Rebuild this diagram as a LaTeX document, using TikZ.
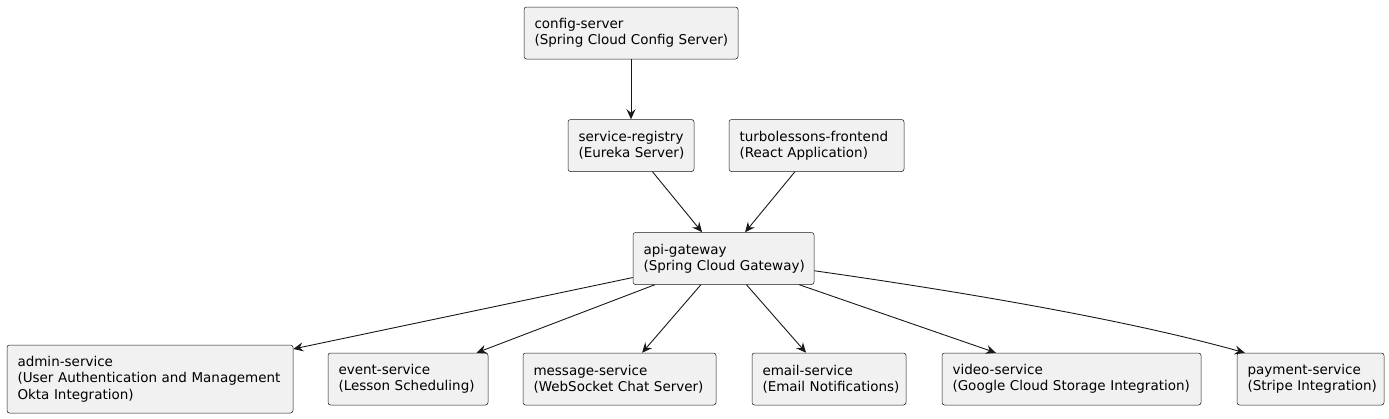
\documentclass[tikz,border=0pt]{standalone}
\usepackage{fontspec}
\setmainfont{DejaVu Sans}
\usetikzlibrary{arrows.meta,calc}
\definecolor{boxfill}{HTML}{F1F1F1}
\definecolor{boxline}{HTML}{181818}
\tikzset{
  svc/.style={draw=boxline, line width=0.5pt, fill=boxfill, rounded corners=2.5pt,
    align=left, inner xsep=10.5pt, inner ysep=0pt, minimum height=52pt,
    font=\fontsize{13.5}{16.4}\selectfont},
  conn/.style={draw=boxline, line width=0.9pt, -{Stealth[length=10pt,width=9pt,inset=3.5pt]}}
}
\newcommand{\svcbox}[6]{% name, cx, cy, width, line1, line2
  \node[svc, text width=#4pt-21pt, minimum width=#4pt] (#1) at (#2,#3) {\mbox{#5}\\\mbox{#6}};}
\begin{document}
\begin{tikzpicture}[x=1pt,y=-1pt]
\useasboundingbox (0,0) rectangle (1389,418);
\svcbox{config}{631}{33}{214}{config-server}{(Spring Cloud Config Server)}
\svcbox{registry}{631}{145.5}{126}{service-registry}{(Eureka Server)}
\svcbox{frontend}{816.5}{145.5}{175}{turbolessons-frontend}{(React Application)}
\svcbox{gw}{723.5}{258.5}{181}{api-gateway}{(Spring Cloud Gateway)}
\node[svc, text width=265pt, minimum width=286pt, minimum height=68pt] (admin) at (150,379) {\mbox{admin-service}\\\mbox{(User Authentication and Management}\\\mbox{Okta Integration)}};
\svcbox{event}{408}{379}{160}{event-service}{(Lesson Scheduling)}
\svcbox{message}{619.5}{379}{193}{message-service}{(WebSocket Chat Server)}
\svcbox{email}{829}{379}{154}{email-service}{(Email Notifications)}
\svcbox{video}{1071.5}{379}{259}{video-service}{(Google Cloud Storage Integration)}
\svcbox{pay}{1310.5}{379}{147}{payment-service}{(Stripe Integration)}

\draw[conn] (config) -- (registry);
\draw[conn] (registry) -- (gw);
\draw[conn] (frontend) -- (gw);
\draw[conn] (gw) -- (admin);
\draw[conn] (gw) -- (event);
\draw[conn] (gw) -- (message);
\draw[conn] (gw) -- (email);
\draw[conn] (gw) -- (video);
\draw[conn] ($(gw.south east)+(0,-14)$) .. controls (950,290) and (1120,318) .. ($(pay.north west)+(8,0)$);
\end{tikzpicture}
\end{document}
